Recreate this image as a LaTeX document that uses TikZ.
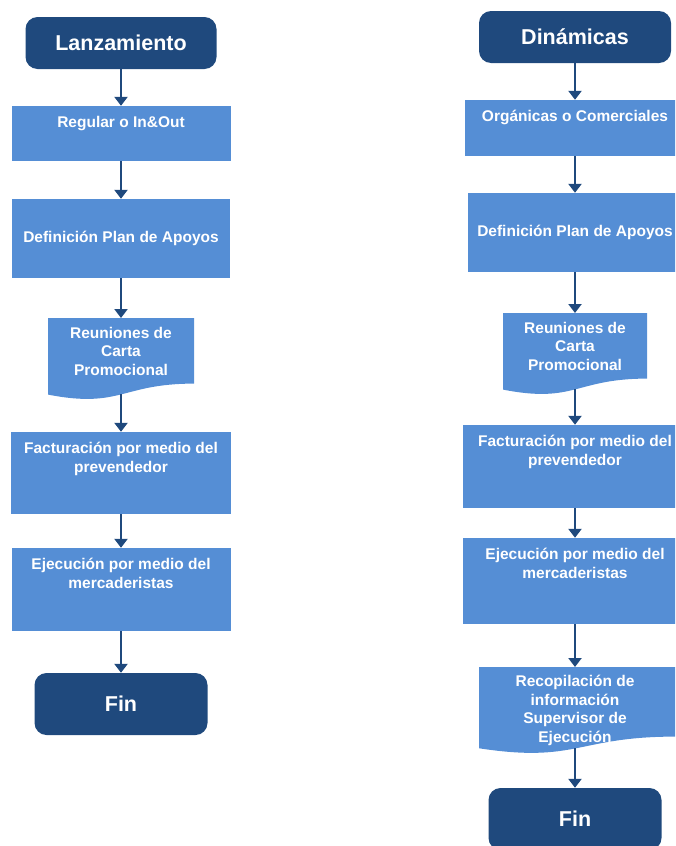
\documentclass[tikz,border=0pt]{standalone}
\usepackage{fontspec}
\setmainfont{Liberation Sans}
\usetikzlibrary{arrows.meta}
\definecolor{navy}{RGB}{31,73,125}
\definecolor{boxblue}{RGB}{85,142,213}
\newcommand{\toptext}[3]{\parbox[c][#2][t]{#1}{\centering\vspace*{9pt}\strut#3\par}}
\newcommand{\docpath}[4]{(#1,#2) -- ({#1+#3},#2) -- ({#1+#3},{#2+0.8*#4})
  .. controls ({#1+0.5*#3},{#2+0.8*#4}) and ({#1+0.5*#3},{#2+1.107*#4}) .. (#1,{#2+0.934*#4}) -- cycle}

\begin{document}
\begin{tikzpicture}[x=1pt,y=-1pt,
  startend/.style={fill=navy,text=white,rounded corners=12pt,inner sep=0pt,font=\fontsize{21.5}{26}\selectfont\bfseries},
  stepbox/.style={fill=boxblue,text=white,inner sep=0pt,font=\fontsize{15.5}{18.5}\selectfont\bfseries},
  doctext/.style={text=white,align=center,inner sep=0pt,font=\fontsize{15.5}{18.5}\selectfont\bfseries},
  flow/.style={navy,line width=2.5pt,-{Triangle[width=13pt,length=9pt]}}]
\useasboundingbox (0,0) rectangle (675,846);
\clip (0,0) rectangle (675,846);
% Lanzamiento
\node[startend,minimum width=191pt,minimum height=52pt] (lanz) at (121,43) {Lanzamiento};
\node[stepbox] (reg) at (121,133.5) {\toptext{219pt}{55pt}{Regular o In\&Out}};
\node[stepbox,minimum width=218pt,minimum height=79pt] (plan) at (121,238.5) {Definición Plan de Apoyos};
\fill[boxblue] \docpath{48}{318}{146}{82};
\node[doctext,minimum width=146pt,minimum height=66pt,anchor=north] (reun) at (121,318) {Reuniones de\\Carta\\Promocional};
\coordinate (reunB) at (121,394);
\node[stepbox] (fact) at (121,473) {\toptext{220pt}{82pt}{Facturación por medio del\\prevendedor}};
\node[stepbox] (ejec) at (121,589.5) {\toptext{219pt}{83pt}{Ejecución por medio del\\mercaderistas}};
\node[startend,minimum width=173pt,minimum height=62pt] (fin) at (121,704) {Fin};
\draw[flow] (lanz) -- (reg);
\draw[flow] (reg) -- (plan);
\draw[flow] (plan) -- (reun);
\draw[flow] (reunB) -- (fact);
\draw[flow] (fact) -- (ejec);
\draw[flow] (ejec) -- (fin);
% Dinamicas
\node[startend,minimum width=192pt,minimum height=52pt] (din) at (575,37) {Dinámicas};
\node[stepbox] (org) at (575,128) {\toptext{220pt}{56pt}{Orgánicas o Comerciales}};
\node[stepbox,minimum width=214pt,minimum height=79pt] (plan2) at (575,232.5) {Definición Plan de Apoyos};
\fill[boxblue] \docpath{503}{313}{144}{82};
\node[doctext,minimum width=144pt,minimum height=66pt,anchor=north] (reun2) at (575,313) {Reuniones de\\Carta\\Promocional};
\coordinate (reun2B) at (575,389);
\node[stepbox] (fact2) at (575,466.5) {\toptext{224pt}{83pt}{Facturación por medio del\\prevendedor}};
\node[stepbox] (ejec2) at (575,581) {\toptext{224pt}{86pt}{Ejecución por medio del\\mercaderistas}};
\fill[boxblue] \docpath{479}{667}{196}{87};
\node[doctext,minimum width=196pt,minimum height=86pt,anchor=north] (reco) at (575,667) {Recopilación de\\información\\Supervisor de\\Ejecución};
\coordinate (recoB) at (575,748);
\node[startend,minimum width=173pt,minimum height=62pt] (fin2) at (575,819) {Fin};
\draw[flow] (din) -- (org);
\draw[flow] (org) -- (plan2);
\draw[flow] (plan2) -- (reun2);
\draw[flow] (reun2B) -- (fact2);
\draw[flow] (fact2) -- (ejec2);
\draw[flow] (ejec2) -- (reco);
\draw[flow] (recoB) -- (fin2);
\end{tikzpicture}
\end{document}
